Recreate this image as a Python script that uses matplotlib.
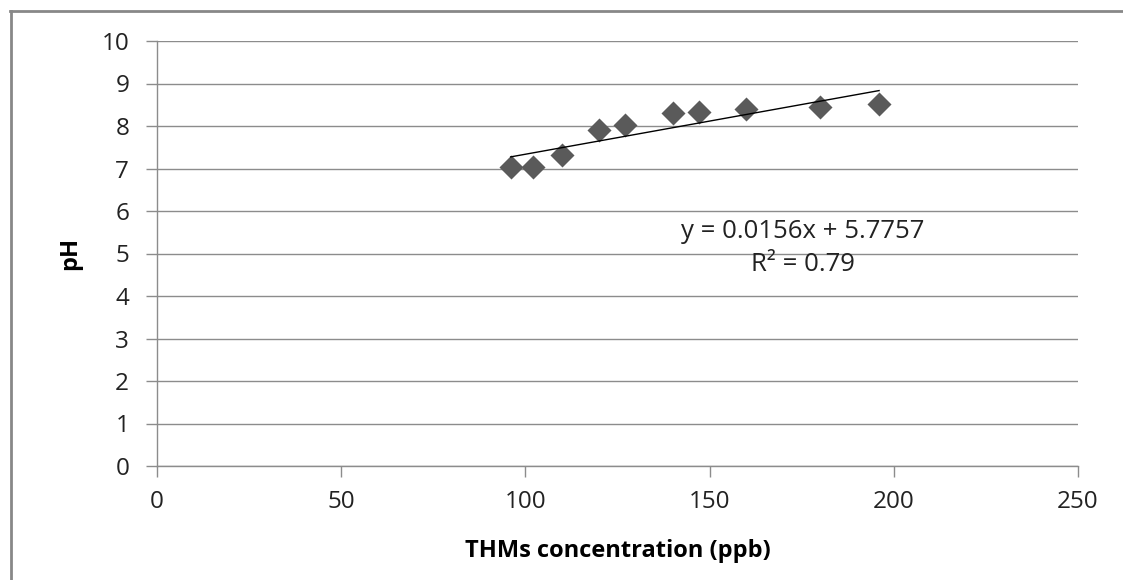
import numpy as np
import matplotlib.pyplot as plt
from matplotlib.lines import Line2D

plt.rcParams['font.family'] = ['Open Sans', 'DejaVu Sans']

# THMs concentration (ppb) vs pH
thms = [96, 102, 110, 120, 127, 140, 147, 160, 180, 196]
ph = [7.03, 7.04, 7.32, 7.90, 8.02, 8.30, 8.32, 8.39, 8.45, 8.51]

slope = 0.0156
intercept = 5.7757
r2 = 0.79

fig = plt.figure(figsize=(11.23, 5.8), dpi=100)
ax = fig.add_axes([157/1123, 1-466/580, (1078-157)/1123, (466-41)/580])

grey = '#8c8c8c'
ax.scatter(thms, ph, marker='D', s=150, color='#5a5a5a', zorder=3, linewidths=0)

xt = np.array([min(thms), max(thms)])
ax.plot(xt, slope*xt + intercept, color='black', lw=1.0, zorder=4)

# trendline label
ax.text(175.4, 5.51, 'y = %.4fx + %.4f' % (slope, intercept), ha='center', va='center',
        fontsize=18.5, color='#222222')
ax.text(175.4, 4.75, 'R² = %.2f' % r2, ha='center', va='center', fontsize=18.5, color='#222222')

ax.set_xlim(0, 250)
ax.set_ylim(0, 10)
ax.set_xticks(range(0, 251, 50))
ax.set_yticks(range(0, 11))
ax.yaxis.grid(True, color=grey, lw=1)
ax.set_axisbelow(True)
for s in ['top', 'right']:
    ax.spines[s].set_visible(False)
for s in ['left', 'bottom']:
    ax.spines[s].set_color(grey)
    ax.spines[s].set_linewidth(1)
ax.tick_params(axis='both', colors=grey, length=8, width=1, labelsize=17.5, labelcolor='#222222')
ax.tick_params(axis='y', pad=12)
ax.tick_params(axis='x', pad=9)

ax.set_xlabel('THMs concentration (ppb)', fontsize=17, fontweight='bold', labelpad=18)
ax.set_ylabel('pH', fontsize=17, fontweight='bold', labelpad=14)

# chart border (only top and left visible in the crop)
fig.add_artist(Line2D([10/1123, 1.0], [1-11/580, 1-11/580], color='#888888', lw=2, transform=fig.transFigure))
fig.add_artist(Line2D([11/1123, 11/1123], [0, 1-11/580], color='#888888', lw=2, transform=fig.transFigure))

fig.savefig('out.png', dpi=100)
